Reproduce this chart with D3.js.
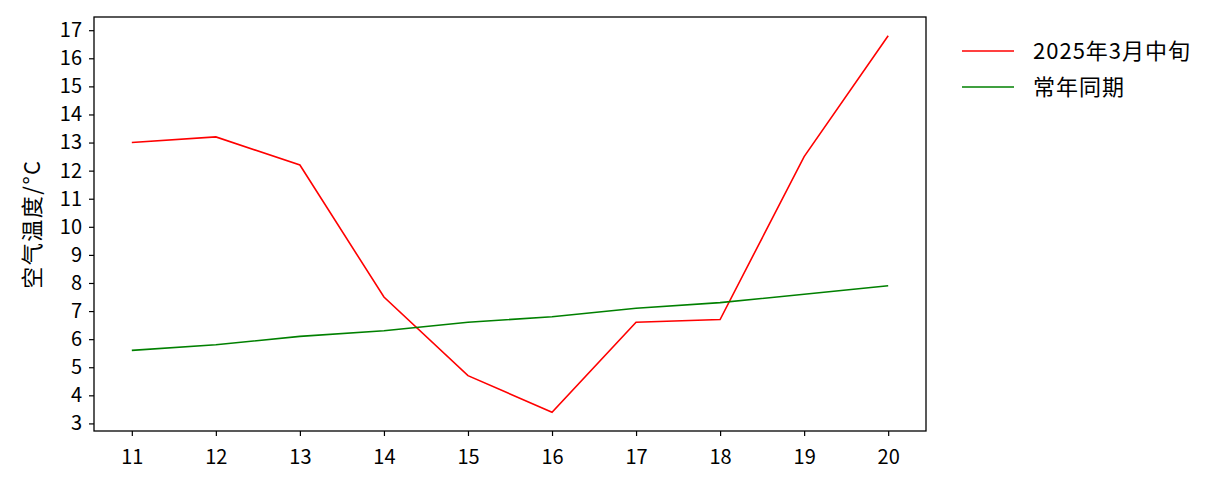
<!DOCTYPE html>
<html>
<head>
<meta charset="utf-8">
<script src="https://cdn.jsdelivr.net/npm/d3@7"></script>
<style>
  body { margin: 0; background: #fff; }
  svg text { font-family: "Noto Sans CJK SC", "DejaVu Sans", sans-serif; fill: #000; }
</style>
</head>
<body>
<div id="chart"></div>
<script>
// data
var days = [11, 12, 13, 14, 15, 16, 17, 18, 19, 20];
var temp2025 = [13.0, 13.2, 12.2, 7.5, 4.7, 3.4, 6.6, 6.7, 12.5, 16.8];
var tempNormal = [5.6, 5.8, 6.1, 6.3, 6.6, 6.8, 7.1, 7.3, 7.6, 7.9];
var seriesNames = ['2025年3月中旬', '常年同期'];
var seriesColors = ['#ff0000', '#008000'];
var yTicks = d3.range(3, 18);

function draw_chart() {
  var W = 1222, H = 487;
  var pLeft = 94, pRight = 926, pTop = 17, pBottom = 431;

  var svg = d3.select('#chart').append('svg')
    .attr('width', W).attr('height', H);

  var x = d3.scaleLinear().domain([10.55, 20.45]).range([pLeft, pRight]);
  var y = d3.scaleLinear().domain([2.73, 17.47]).range([pBottom, pTop]);

  // axes
  var xAxis = d3.axisBottom(x).tickValues(days).tickSize(5).tickPadding(14).tickFormat(d3.format('d'));
  var yAxis = d3.axisLeft(y).tickValues(yTicks).tickSize(5).tickPadding(7).tickFormat(d3.format('d'));

  var gx = svg.append('g').attr('transform', 'translate(0,' + pBottom + ')').call(xAxis);
  var gy = svg.append('g').attr('transform', 'translate(' + pLeft + ',0)').call(yAxis);
  [gx, gy].forEach(function(g) {
    g.select('.domain').remove();
    g.selectAll('.tick line').attr('stroke', '#000').attr('stroke-width', 1.2);
    g.selectAll('.tick text').style('font-size', '20px');
  });

  // lines
  var line = d3.line().x(function(d, i) { return x(days[i]); }).y(function(d) { return y(d); });
  [temp2025, tempNormal].forEach(function(s, k) {
    svg.append('path')
      .datum(s)
      .attr('d', line)
      .attr('fill', 'none')
      .attr('stroke', seriesColors[k])
      .attr('stroke-width', 1.6);
  });

  // frame
  svg.append('rect')
    .attr('x', pLeft).attr('y', pTop)
    .attr('width', pRight - pLeft).attr('height', pBottom - pTop)
    .attr('fill', 'none').attr('stroke', '#000').attr('stroke-width', 1.3);

  // y label
  svg.append('text')
    .attr('transform', 'translate(40,' + ((pTop + pBottom) / 2) + ') rotate(-90)')
    .attr('text-anchor', 'middle')
    .style('font-size', '22px')
    .style('letter-spacing', '1.5px')
    .text('空气温度/°C');

  // legend
  var legend = svg.selectAll('.legend')
    .data(seriesNames)
    .enter().append('g')
    .attr('class', 'legend')
    .attr('transform', function(d, i) { return 'translate(962,' + (51 + i * 36) + ')'; });

  legend.append('line')
    .attr('x1', 0).attr('x2', 52)
    .attr('stroke', function(d, i) { return seriesColors[i]; })
    .attr('stroke-width', 1.6);

  legend.append('text')
    .attr('x', 71).attr('dy', '0.38em')
    .style('font-size', '22px')
    .style('letter-spacing', '1px')
    .text(function(d) { return d; });
}

draw_chart();
</script>
</body>
</html>
